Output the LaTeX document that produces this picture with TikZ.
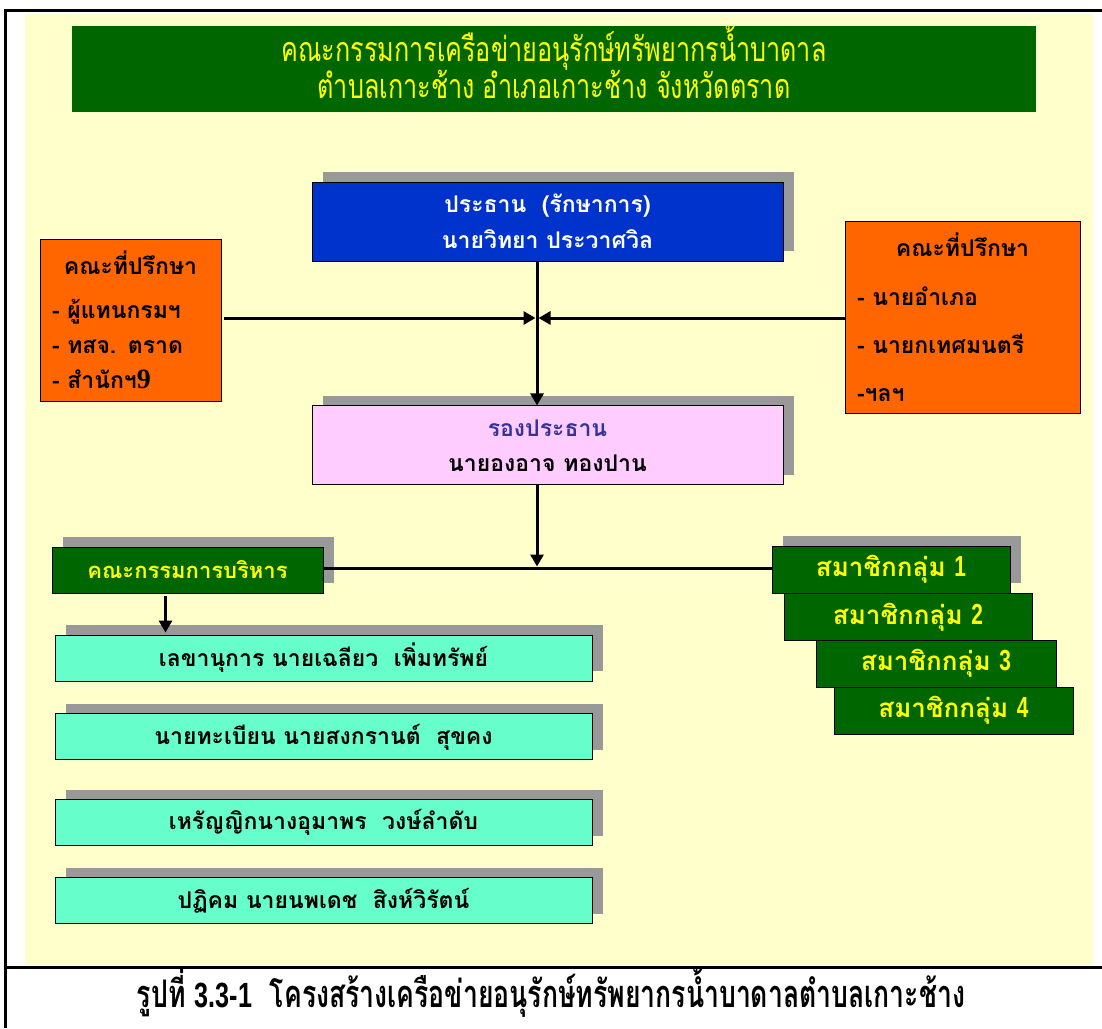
\documentclass[tikz,border=0pt]{standalone}
\usepackage{fontspec}
\setmainfont{Liberation Sans}
\newfontfamily\thaifont[Script=Thai]{Loma}
\newfontfamily\thainarrow[Script=Thai,FakeStretch=0.74]{Loma}
\newfontfamily\thaicap[Script=Thai,FakeStretch=0.70]{Loma}
\newfontfamily\latnarrow[FakeStretch=0.72]{Liberation Sans}
\newfontfamily\latserif{Liberation Serif}
\newcommand\tightlines{\lineskiplimit=-60pt\relax}
\usepackage{xcolor}
\usetikzlibrary{arrows.meta,positioning,shadows}
\definecolor{cream}{HTML}{FFFFCC}
\definecolor{deepgreen}{HTML}{006600}
\definecolor{chairblue}{HTML}{0033CC}
\definecolor{advorange}{HTML}{FF6600}
\definecolor{vicepink}{HTML}{FFCCFF}
\definecolor{vicetext}{HTML}{333399}
\definecolor{mint}{HTML}{66FFCC}
\definecolor{signyellow}{HTML}{FFFF00}

\begin{document}
\begin{tikzpicture}[
    x=1pt,y=-1pt,
    font=\thaifont\bfseries\fontsize{23}{36}\selectfont\tightlines,
    box/.style={draw=black,line width=0.9pt,align=center,inner sep=0pt},
    sbox/.style={box,drop shadow={shadow xshift=11pt,shadow yshift=10pt,fill=black!40,opacity=1}},
    grpbox/.style={box,fill=deepgreen,text=signyellow,minimum height=47pt,font=\thaifont\bfseries\fontsize{26}{28}\selectfont},
    staffbox/.style={sbox,fill=mint,minimum width=537pt,minimum height=46pt},
    advbox/.style={box,fill=advorange,align=left,inner xsep=12pt},
    arr/.style={-{Triangle[length=12pt,width=13pt]},line width=3pt},
    link/.style={line width=3pt}
  ]
  % page, background and frame
  \useasboundingbox (0,0) rectangle (1102,1028);
  \fill[cream] (25,14) rectangle (1093,965);
  \draw[line width=3pt] (5,1028) -- (5,10) -- (1102,10);
  \draw[line width=3pt] (5,967) -- (1102,967);

  \node[fill=deepgreen,text=signyellow,align=center,minimum width=964pt,minimum height=86pt,inner ysep=0pt,
        text height=72pt,text depth=14pt,
        font=\thainarrow\fontsize{34}{37}\selectfont\tightlines] (title) at (554,69)
    {คณะกรรมการเครือข่ายอนุรักษ์ทรัพยากรน้ำบาดาล\\ตำบลเกาะช้าง อำเภอเกาะช้าง จังหวัดตราด};

  \node[sbox,fill=chairblue,text=white,minimum width=471pt,minimum height=79pt] (chair) at (547.5,221.5)
    {ประธาน~~(รักษาการ)\\นายวิทยา ประวาศวิล};
  \node[sbox,fill=vicepink,minimum width=471pt,minimum height=79pt,below=144pt of chair] (vice)
    {\textcolor{vicetext}{รองประธาน}\\[-1pt]นายองอาจ ทองปาน};

  \node[advbox,text width=157pt,minimum height=162pt,font=\thaifont\bfseries\fontsize{23}{35}\selectfont\tightlines] (advL) at (130.5,320)
    {\makebox[\linewidth]{คณะที่ปรึกษา}\\[9pt]- ผู้แทนกรมฯ\\- ทสจ. ตราด\\- สำนักฯ{\latserif\fontsize{28}{28}\selectfont 9}};
  \node[advbox,text width=211pt,minimum height=192pt,inner xsep=12pt,font=\thaifont\bfseries\fontsize{23}{48}\selectfont\tightlines] (advR) at (962.5,317)
    {\makebox[\linewidth]{คณะที่ปรึกษา}\\[1pt]- นายอำเภอ\\- นายกเทศมนตรี\\-ฯลฯ};

  \node[sbox,fill=deepgreen,text=signyellow,minimum width=271pt,minimum height=46pt,font=\thaifont\bfseries\fontsize{22}{24}\selectfont] (exec) at (187.5,570)
    {คณะกรรมการบริหาร};

  \node[grpbox,minimum width=238pt,drop shadow={shadow xshift=11pt,shadow yshift=10pt,fill=black!40,opacity=1}] (grp1) at (891,569.5)
    {สมาชิกกลุ่ม {\latnarrow\fontsize{29}{29}\selectfont 1}};
  \node[grpbox,minimum width=248pt] (grp2) at (908,617) {สมาชิกกลุ่ม {\latnarrow\fontsize{29}{29}\selectfont 2}};
  \node[grpbox,minimum width=240pt] (grp3) at (936,663.5) {สมาชิกกลุ่ม {\latnarrow\fontsize{29}{29}\selectfont 3}};
  \node[grpbox,minimum width=239pt] (grp4) at (953.5,710.5) {สมาชิกกลุ่ม {\latnarrow\fontsize{29}{29}\selectfont 4}};

  \node[staffbox] (sec1) at (323.5,658) {เลขานุการ นายเฉลียว~~เพิ่มทรัพย์};
  \node[staffbox,below=32pt of sec1] (sec2) {นายทะเบียน นายสงกรานต์~~สุขคง};
  \node[staffbox,below=39pt of sec2] (sec3) {เหรัญญิกนางอุมาพร~~วงษ์ลำดับ};
  \node[staffbox,below=31pt of sec3] (sec4) {ปฏิคม นายนพเดช~~สิงห์วิรัตน์};

  \node[anchor=base,inner sep=0pt,font=\thaicap\bfseries\fontsize{38}{38}\selectfont] (caption) at (551,1007)
    {รูปที่ {\latnarrow\bfseries\fontsize{35}{35}\selectfont 3.3-1}~~โครงสร้างเครือข่ายอนุรักษ์ทรัพยากรน้ำบาดาลตำบลเกาะช้าง};

  % connectors
  \coordinate (mid) at (537,318);
  \coordinate (hub) at (537,568);
  \draw[arr] (mid |- chair.south) -- (mid |- vice.north);
  \draw[arr] ([xshift=3pt]advL.east |- mid) -- ([xshift=-1.5pt]mid);
  \draw[arr] (advR.west |- mid) -- ([xshift=1.5pt]mid);
  \draw[arr] (mid |- vice.south) -- ([yshift=1.5pt]hub);
  \draw[link] (exec.east |- hub) -- (grp1.west |- hub);
  \draw[arr] ([xshift=-22pt,yshift=-3pt]exec.south) -- ([xshift=-22pt,yshift=2pt]exec.south |- sec1.north);
\end{tikzpicture}
\end{document}
